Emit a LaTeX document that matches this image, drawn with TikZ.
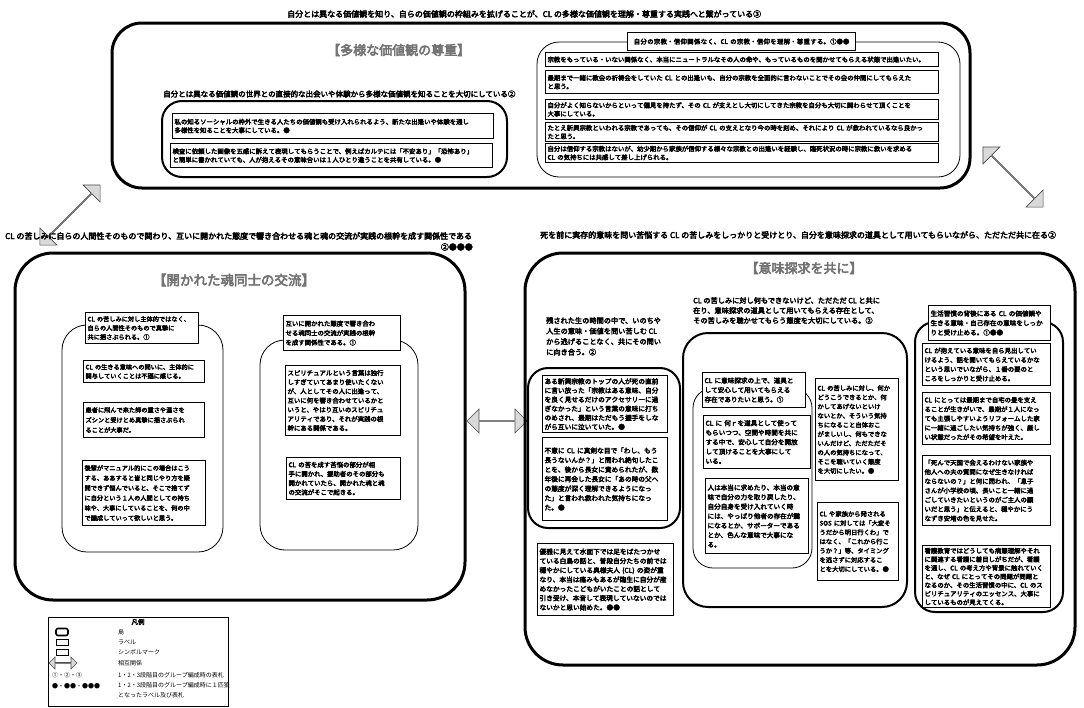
\documentclass[tikz,border=0pt]{standalone}
\usepackage{fontspec}
\usetikzlibrary{shapes.arrows,fit}
\newfontfamily\jp{Noto Sans CJK JP}[FakeBold=4]
\newfontfamily\jpr{Noto Sans CJK JP}
\XeTeXlinebreaklocale "ja"
\XeTeXlinebreakskip=0pt plus 1pt
\newcommand{\fsz}[2]{\jp\fontsize{#1}{#2}\selectfont}
\newcommand{\fsr}[2]{\jpr\fontsize{#1}{#2}\selectfont}
\tikzset{
  bigisl/.style={draw, line width=3pt, rounded corners=30pt, inner sep=0pt},
  midisl/.style={draw, line width=2pt, rounded corners=20pt, inner sep=0pt},
  thinisl/.style={draw, line width=0.8pt, rounded corners=22pt, inner sep=0pt},
  lbl/.style={draw, line width=1.1pt, fill=white, anchor=north west, inner xsep=2pt, inner ysep=1pt, align=left},
  ttl/.style={inner sep=0pt, font=\fsz{8}{10}},
  bigt/.style={inner sep=0pt, text=black!55, font=\fsz{12.5}{14}},
  darr/.style={double arrow, draw=black!70, fill=black!15, line width=0.6pt, minimum width=24pt, double arrow head extend=6pt, inner sep=0pt}
}
\begin{document}
\begin{tikzpicture}[x=1pt,y=-1pt]
\useasboundingbox (0,0) rectangle (1084,707);

% ---------- arrows (behind the texts) ----------
\node[darr, minimum height=85pt, rotate=45] (aUL) at (70,215) {};
\node[darr, minimum height=85pt, rotate=-45] (aUR) at (1013,177) {};
\node[darr, minimum height=60pt] (aM) at (497,421) {};

% ---------- top ----------
\node[ttl, anchor=west] (toptitle) at (287,14) {自分とは異なる価値観を知り、自らの価値観の枠組みを拡げることが、CL の多様な価値観を理解・尊重する実践へと繋がっている③};
\node[bigisl, fit={(112,23)(970,188)}] (topisl) {};
\node[bigt, font=\fsz{13}{15}, anchor=west] (toptit) at (327,50) {【多様な価値観の尊重】};

\node[inner sep=0pt, anchor=west, font=\fsz{7.5}{9}] (tl) at (163,94) {自分とは異なる価値観の世界との直接的な出会いや体験から多様な価値観を知ることを大切にしている②};
\node[midisl, fit={(162,101)(507,177)}] (tlisl) {};
\node[lbl, minimum width=321pt, minimum height=25pt, text width=317pt, font=\fsz{6.4}{8.5}] (t1) at (172,113) {私の知るソーシャルの枠外で生きる人たちの価値観も受け入れられるよう、新たな出逢いや体験を通し\\多様性を知ることを大事にしている。●};
\node[lbl, minimum width=322pt, minimum height=24pt, text width=318pt, font=\fsz{6.4}{8.5}] (t2) at (170,143) {検査に依頼した画像を五感に訴えて表現してもらうことで、例えばカルテには「不安あり」「恐怖あり」\\と簡単に書かれていても、人が抱えるその意味合いは１人ひとり違うことを共有している。●};

\node[thinisl, fit={(537,42)(960,177)}] (trisl) {};
\node[lbl, minimum width=228pt, minimum height=18pt, text width=224pt, align=center, font=\fsz{6.4}{8}] (tr) at (627,32) {自分の宗教・信仰関係なく、CL の宗教・信仰を理解・尊重する。①●●};
\node[lbl, minimum width=393pt, minimum height=14pt, text width=389pt, font=\fsz{6.4}{8}] (r1) at (545,52) {宗教をもっている・いない関係なく、本当にニュートラルなその人の命や、もっているものを聞かせてもらえる状態で出逢いたい。};
\node[lbl, minimum width=393pt, minimum height=23pt, text width=389pt, font=\fsz{6.4}{8.5}] (r2) at (545,70) {最期まで一緒に教会の祈祷会をしていた CL との出逢いも、自分の宗教を全面的に言わないことでその会の仲間にしてもらえた\\と思う。};
\node[lbl, minimum width=393pt, minimum height=20pt, text width=389pt, font=\fsz{6.4}{8.5}] (r3) at (545,99) {自分がよく知らないからといって偏見を持たず、その CL が支えとし大切にしてきた宗教を自分も大切に関わらせて頂くことを\\大事にしている。};
\node[lbl, minimum width=393pt, minimum height=19pt, text width=389pt, font=\fsz{6.4}{8.5}] (r4) at (545,122) {たとえ新興宗教といわれる宗教であっても、その信仰が CL の支えとなり今の時を刻め、それにより CL が救われているなら良かっ\\たと思う。};
\node[lbl, minimum width=393pt, minimum height=19pt, text width=389pt, font=\fsz{6.4}{8.5}] (r5) at (545,143) {自分は信仰する宗教はないが、幼少期から家族が信仰する様々な宗教との出逢いを経験し、臨死状況の時に宗教に救いを求める\\CL の気持ちには共感して差し上げられる。};

% ---------- middle labels ----------
\node[ttl, anchor=west] (ml) at (5,236) {CL の苦しみに自らの人間性そのもので関わり、互いに開かれた態度で響き合わせる魂と魂の交流が実践の根幹を成す関係性である};
\node[ttl, anchor=east] (ml2) at (473,247) {②●●●};
\node[ttl, anchor=west] (mr) at (540,235) {死を前に実存的意味を問い苦悩する CL の苦しみをしっかりと受けとり、自分を意味探求の道具として用いてもらいながら、ただただ共に在る②};

% ---------- left island ----------
\node[bigisl, rounded corners=38pt, fit={(15,253)(465,600)}] (lisl) {};
\node[bigt, font=\fsz{13.5}{15}, anchor=center] (ltit) at (234,280) {【開かれた魂同士の交流】};
\node[thinisl, rounded corners=25pt, fit={(62,325)(223,552)}] (lisl1) {};
\node[lbl, minimum width=113pt, minimum height=31pt, text width=109pt, font=\fsz{6.2}{9}] (L1) at (85,312) {CL の苦しみに対し主体的ではなく、\\自らの人間性そのもので真摯に\\共に揺さぶられる。①};
\node[lbl, minimum width=121pt, minimum height=22pt, text width=117pt, font=\fsz{6.2}{9}] (L2) at (83,360) {CL の生きる意味への問いに、主体的に\\関与していくことは不遜に感じる。};
\node[lbl, minimum width=121pt, minimum height=35pt, text width=117pt, font=\fsz{6.2}{10}] (L3) at (83,402) {患者に飛んで来た師の重さや温さを\\ズシンと受けとめ真摯に揺さぶられ\\ることが大事だ。};
\node[lbl, minimum width=123pt, minimum height=65pt, text width=119pt, font=\fsz{6.2}{10}] (L4) at (82,460) {後輩がマニュアル的にこの場合はこう\\する、ああすると皆と同じやり方を疑\\問できず悩んでいると、そこで捨てず\\に自分という１人の人間としての持ち\\味や、大事にしていることを、何の中\\で醸成していって欲しいと思う。};

\node[thinisl, rounded corners=25pt, fit={(260,340)(418,550)}] (lisl2) {};
\node[lbl, minimum width=117pt, minimum height=35pt, text width=113pt, font=\fsz{6.4}{9.5}] (R1) at (283,315) {互いに開かれた態度で響き合わ\\せる魂同士の交流が実践の根幹\\を成す関係性である。①};
\node[lbl, minimum width=115pt, minimum height=70pt, text width=111pt, font=\fsz{6.4}{9.2}] (R2) at (285,365) {スピリチュアルという言葉は独行\\しすぎていてあまり使いたくない\\が、人としてその人に出逢って、\\互いに何を響き合わせているかと\\いうと、やはり互いのスピリチュ\\アリティであり、それが実践の根\\幹にある関係である。};
\node[lbl, minimum width=114pt, minimum height=42pt, text width=110pt, font=\fsz{6.4}{9.2}] (R3) at (286,457) {CL の苦を成す苦悩の部分が相\\手に開かれ、援助者のその部分も\\開かれていたら、開かれた魂と魂\\の交流がそこで起きる。};

% ---------- right island ----------
\node[bigisl, rounded corners=38pt, fit={(525,253)(1075,665)}] (risl) {};
\node[bigt, font=\fsz{13}{15}, anchor=center] (rtit) at (804,268) {【意味探求を共に】};

\node[inner sep=0pt, anchor=north west, align=left, font=\fsz{7.2}{10.5}] (Alab) at (546,317) {残された生の時間の中で、いのちや\\人生の意味・価値を問い苦しむ CL\\から逃げることなく、共にその問い\\に向き合う。②};
\node[midisl, fit={(528,368)(680,528)}] (Aisl) {};
\node[lbl, minimum width=125pt, minimum height=57pt, text width=121pt, font=\fsz{6.7}{9.1}] (A1) at (542,375) {ある新興宗教のトップの人が死の直前\\に言い放った「宗教はある意味、自分\\を良く見せるだけのアクセサリーに過\\ぎなかった」という言葉の意味に打ち\\のめされ、最期はただもう握手をしな\\がら互いに泣いていた。●};
\node[lbl, minimum width=125pt, minimum height=83pt, text width=121pt, font=\fsz{6.7}{9.5}] (A2) at (542,437) {不意に CL に真剣な目で「わし、もう\\長うないんか？」と問われ絶句したこ\\とを、後から長女に責められたが、数\\年後に再会した長女に「あの時の父へ\\の態度が深く理解できるようになっ\\た」と言われ救われた気持ちになっ\\た。●};
\node[lbl, minimum width=136pt, minimum height=72pt, text width=132pt, font=\fsz{6.7}{9.3}] (B) at (537,543) {優雅に見えて水面下では足をばたつかせ\\ている白鳥の話と、普段自分たちの前では\\穏やかにしている奥様夫人 (CL) の姿が重\\なり、本当は痛みもあるが臨生に自分が産\\めなかったこどもがいたことの話として\\引き受け、本音して表現していないのでは\\ないかと思い始めた。●●};

\node[inner sep=0pt, anchor=north west, align=left, font=\fsz{7.2}{10}] (Mlab) at (693,297) {CL の苦しみに対し何もできないけど、ただただ CL と共に\\在り、意味探求の道具として用いてもらえる存在として、\\その苦しみを聴かせてもらう態度を大切にしている。②};
\node[midisl, rounded corners=25pt, fit={(683,333)(907,607)}] (Misl) {};
\node[thinisl, rounded corners=20pt, fit={(693,388)(812,568)}] (Min) {};
\node[lbl, minimum width=103pt, minimum height=35pt, text width=99pt, font=\fsz{6.6}{9.5}] (M1) at (702,372) {CL に意味探求の上で、道具と\\して安心して用いてもらえる\\存在でありたいと思う。①};
\node[lbl, minimum width=107pt, minimum height=53pt, text width=103pt, font=\fsz{6.6}{9.5}] (M2) at (703,415) {CL に 何ｒを道具として使って\\もらいつつ、空間や時間を共に\\する中で、安心して自分を開放\\して頂けることを大事にして\\いる。};
\node[lbl, minimum width=103pt, minimum height=75pt, text width=99pt, font=\fsz{6.6}{9.5}] (M3) at (705,478) {人は本当に求めたり、本当の意\\味で自分の力を取り戻したり、\\自分自身を受け入れていく時\\には、やっぱり他者の存在が鍵\\になるとか、サポーターである\\とか、色んな意味で大事にな\\る。};
\node[lbl, minimum width=83pt, minimum height=102pt, text width=79pt, font=\fsz{6.3}{9.2}] (M4) at (815,378) {CL の苦しみに対し、何か\\どうこうできるとか、何\\かしてあげないといけ\\ないとか、そういう気持\\ちになること自体おこ\\がましいし、何もできな\\いんだけど、ただただそ\\の人の気持ちになって、\\そこを聴いていく態度\\を大切にしたい。●};
\node[lbl, minimum width=81pt, minimum height=78pt, text width=77pt, font=\fsz{6.3}{9.2}] (M5) at (817,502) {CL や家族から発される\\SOS に対しては「大変そ\\うだから明日行くわ」で\\はなく、「これから行こ\\うか？」等、タイミング\\を逃さずに対応するこ\\とを大切にしている。●};

\node[midisl, fit={(915,322)(1063,612)}] (Cisl) {};
\node[lbl, minimum width=122pt, minimum height=35pt, text width=118pt, font=\fsz{6.6}{9.5}] (C0) at (928,305) {生活習慣の背後にある CL の価値観や\\生きる意味・自己存在の意味をしっか\\りと受け止める。①●●};
\node[lbl, minimum width=128pt, minimum height=42pt, text width=124pt, font=\fsz{6.4}{9.3}] (C1) at (922,343) {CL が抱えている意味を自ら見出してい\\けるよう、話を聞いてもらえているかな\\という思いでいながら、１番の要のと\\ころをしっかりと受け止める。};
\node[lbl, minimum width=128pt, minimum height=52pt, text width=124pt, font=\fsz{6.4}{9.3}] (C2) at (922,392) {CL にとっては最期まで自宅の畳を支え\\ることが生きがいで、最期が１人になっ\\ても主張しやすいようリフォームした家\\に一緒に過ごしたい気持ちが強く、厳し\\い状態だったがその希望を叶えた。};
\node[lbl, minimum width=128pt, minimum height=70pt, text width=124pt, font=\fsz{6.4}{9.3}] (C3) at (922,455) {「死んで天国で会えるわけない家族や\\他人への夫の質問になぜ生きなければ\\ならないの？」と何に問われ、「息子\\さんが小学校の頃、長いこと一緒に過\\ごしていきたいというのがご主人の願\\いだと思う」と伝えると、穏やかにう\\なずき安堵の色を見せた。};
\node[lbl, minimum width=128pt, minimum height=62pt, text width=124pt, font=\fsz{6.4}{8.6}] (C4) at (922,545) {看護教育ではどうしても病態理解やそれ\\に関連する看護に着目しがちだが、看護\\を通し、CL の考え方や背景に触れていく\\と、なぜ CL にとってその問題が問題と\\なるのか、その生活習慣の中に、CL のス\\ピリチュアリティのエッセンス、大事に\\しているものが見えてくる。};

% ---------- legend ----------
\node[draw, line width=0.6pt, fit={(48,617)(228,706)}, inner sep=0pt] (leg) {};
\node[inner sep=0pt, font=\fsz{6.5}{8}] (legt) at (138,622) {凡例};
\node[draw, line width=1.6pt, rounded corners=2pt, minimum width=12pt, minimum height=7pt, inner sep=0pt] (lg1) at (62,632) {};
\node[inner sep=0pt, anchor=west, font=\fsr{6}{7}] (lg1t) at (118,632) {島};
\node[draw, line width=0.7pt, minimum width=12pt, minimum height=6pt, inner sep=0pt] (lg2) at (62,642) {};
\node[inner sep=0pt, anchor=west, font=\fsr{6}{7}] (lg2t) at (118,642) {ラベル};
\node[draw, line width=0.7pt, minimum width=12pt, minimum height=6pt, inner sep=0pt] (lg3) at (62,652) {};
\node[inner sep=0pt, anchor=west, font=\fsr{6}{7}] (lg3t) at (118,652) {シンボルマーク};
\node[darr, minimum height=28pt, minimum width=12pt, double arrow head extend=3pt] (lg4) at (63,663) {};
\node[inner sep=0pt, anchor=west, font=\fsr{6}{7}] (lg4t) at (118,663) {相互関係};
\node[inner sep=0pt, anchor=west, font=\fsr{6}{7}] (lg5) at (52,675) {①・②・③};
\node[inner sep=0pt, anchor=west, font=\fsr{6}{7}] (lg5t) at (118,675) {1・2・3段階目のグループ編成時の表札};
\node[inner sep=0pt, anchor=west, font=\fsr{6}{7}] (lg6) at (52,686) {●・●●・●●●};
\node[inner sep=0pt, anchor=north west, align=left, font=\fsr{6}{10}] (lg6t) at (118,682) {1・2・3段階目のグループ編成時に１匹狼\\となったラベル及び表札};
\end{tikzpicture}
\end{document}
